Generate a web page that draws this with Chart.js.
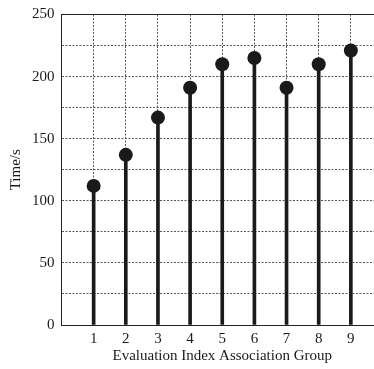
<!DOCTYPE html>
<html>
<head>
<meta charset="utf-8">
<script src="https://cdn.jsdelivr.net/npm/chart.js@4.4.0/dist/chart.umd.min.js"></script>
<style>
  html, body { margin: 0; padding: 0; background: #fff; overflow: hidden; }
  #chart { display: block; }
</style>
</head>
<body>
<canvas id="chart" width="390" height="369"></canvas>
<script>
// data
const groups = [1, 2, 3, 4, 5, 6, 7, 8, 9];
const times = [112, 137, 167, 191, 210, 215, 191, 210, 221];
const xLabel = 'Evaluation Index Association Group';
const yLabel = 'Time/s';

const serif = 'Liberation Serif, Times New Roman, serif';
const ink = '#1a1a1a';

const points = groups.map((g, i) => ({ x: g, y: times[i] }));

new Chart(document.getElementById('chart').getContext('2d'), {
    data: {
        datasets: [
            {   // stems
                type: 'bar',
                data: points,
                backgroundColor: ink,
                barThickness: 3,
                order: 2
            },
            {   // heads
                type: 'scatter',
                data: points,
                pointRadius: 7,
                pointHoverRadius: 7,
                backgroundColor: ink,
                borderWidth: 0,
                order: 1
            }
        ]
    },
    options: {
        responsive: false,
        animation: false,
        layout: { padding: { left: 7, top: 14, right: 0, bottom: 5 } },
        plugins: { legend: { display: false }, tooltip: { enabled: false } },
        scales: {
            x: {
                type: 'linear',
                offset: false,
                min: 0,
                max: 10,
                afterBuildTicks: axis => { axis.ticks = groups.map(v => ({ value: v })); },
                grid: { offset: false, color: '#555', lineWidth: 1, drawTicks: false },
                border: { display: true, color: '#222', width: 1, dash: [2, 1.5] },
                ticks: { color: ink, padding: 7, font: { family: serif, size: 15, lineHeight: 1 } },
                title: { display: true, text: xLabel, color: ink, padding: { top: -5, bottom: 0 },
                         font: { family: serif, size: 15, lineHeight: 1 } }
            },
            y: {
                min: 0,
                max: 250,
                ticks: {
                    stepSize: 25,
                    color: ink,
                    padding: 7,
                    font: { family: serif, size: 15, lineHeight: 1 },
                    callback: v => (v % 50 === 0 ? v : '')
                },
                grid: {
                    color: ctx => (ctx.tick && ctx.tick.value === 250 ? '#222' : '#555'),
                    lineWidth: 1,
                    drawTicks: false
                },
                border: {
                    display: true, color: '#222', width: 1,
                    dash: ctx => (ctx.tick && ctx.tick.value === 250 ? [] : [2, 1.5])
                },
                title: { display: true, text: yLabel, color: ink, padding: { top: 0, bottom: 0 },
                         font: { family: serif, size: 15 } }
            }
        }
    }
});
</script>
</body>
</html>
